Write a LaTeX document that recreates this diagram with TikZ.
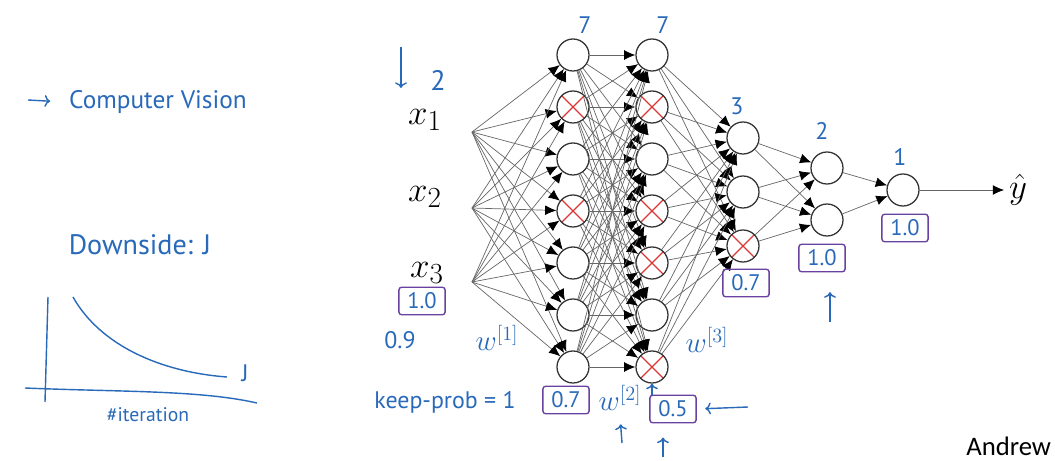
\documentclass[tikz,border=0pt]{standalone}
\usepackage{fontspec}
\newfontfamily\inkfont{PT Sans}
\newfontfamily\slidefont{Carlito}
\usetikzlibrary{arrows.meta,positioning}
\definecolor{inkblue}{RGB}{40,105,185}
\definecolor{inkpurple}{RGB}{105,65,160}
\definecolor{xred}{RGB}{220,55,55}

\begin{document}
\begin{tikzpicture}[x=0.025cm, y=-0.025cm,
  neuron/.style={circle, draw=black!80, line width=0.9pt, fill=white,
    minimum size=0.8cm, inner sep=0pt},
  dropped/.style={neuron, path picture={\draw[xred, line width=0.9pt]
    (path picture bounding box.south west) -- (path picture bounding box.north east)
    (path picture bounding box.north west) -- (path picture bounding box.south east);}},
  link/.style={draw=black!60, line width=0.5pt, -{Latex[length=8pt,width=7pt,black]}},
  inlabel/.style={font=\fontsize{28}{30}\selectfont},
  ink/.style={text=inkblue, font=\inkfont\fontsize{17}{19}\selectfont},
  wlabel/.style={text=inkblue, font=\fontsize{21}{23}\selectfont},
  keepbox/.style={ink, draw=inkpurple, line width=1pt, rounded corners=2pt,
    inner xsep=6pt, inner ysep=4pt, font=\inkfont\fontsize{16}{18}\selectfont},
  inkline/.style={draw=inkblue, line width=1pt},
  inkarrow/.style={inkline, -{To[length=4pt]}},
]
\useasboundingbox (0,0) rectangle (1055,461);

\node[inlabel] (x1) at (425,120) {$x_1$};
\node[inlabel] (x2) at (425,197) {$x_2$};
\node[inlabel] (x3) at (427,273) {$x_3$};
\coordinate (in1) at (472,132);
\coordinate (in2) at (472,208);
\coordinate (in3) at (472,282);

\foreach \i/\s in {1/neuron,2/dropped,3/neuron,4/dropped,5/neuron,6/neuron,7/neuron}
  \node[\s] (a\i) at (573,{3+52*\i}) {};
\foreach \i/\s in {1/neuron,2/dropped,3/neuron,4/dropped,5/dropped,6/neuron,7/dropped}
  \node[\s] (b\i) at (652,{3+52*\i}) {};
\node[neuron]  (c1) at (743,138) {};
\node[neuron]  (c2) at (743,192) {};
\node[dropped] (c3) at (743,246) {};
\node[neuron]  (d1) at (827,168) {};
\node[neuron]  (d2) at (827,220) {};
\node[neuron]  (e1) at (903,190) {};
\node[inlabel] (yhat) at (1018,190) {$\hat{y}$};

\foreach \i in {1,2,3} \foreach \j in {1,...,7} \draw[link] (in\i) -- (a\j);
\foreach \i in {1,...,7} \foreach \j in {1,...,7} \draw[link] (a\i) -- (b\j);
\foreach \i in {1,...,7} \foreach \j in {1,2,3} \draw[link] (b\i) -- (c\j);
\foreach \i in {1,2,3} \foreach \j in {1,2} \draw[link] (c\i) -- (d\j);
\foreach \i in {1,2} \draw[link] (d\i) -- (e1);
\draw[link] (e1) -- (yhat);

\node[ink, font=\inkfont\fontsize{20}{22}\selectfont] (n1) at (438,80) {2};
\draw[inkarrow] (401,47) -- (401,88);
\node[ink] (n2) at (585,25) {7};
\node[ink] (n3) at (663,25) {7};
\node[ink] (n4) at (737,106) {3};
\node[ink] (n5) at (822,131) {2};
\node[ink] (n6) at (900,157) {1};

\node[keepbox] (k1) at (422,301) {1.0};
\node[keepbox] (k2) at (566,400) {0.7};
\node[keepbox] (k3) at (673,409) {0.5};
\node[keepbox] (k4) at (746,283) {0.7};
\node[keepbox] (k5) at (822,258) {1.0};
\node[keepbox] (k6) at (905,228) {1.0};

\node[ink] (p1) at (400,340) {0.9};
\node[wlabel] (w1) at (497,338) {$w^{[1]}$};
\node[wlabel] (w2) at (620,398) {$w^{[2]}$};
\node[wlabel] (w3) at (707,340) {$w^{[3]}$};
\node[ink] (kp) at (445,402) {keep-prob = 1};

\coordinate (u1) at (622,443);
\coordinate (u2) at (663,457);
\coordinate (u3) at (830,322);
\coordinate (l1) at (748,407);
\draw[inkarrow, shorten >=6pt] (u1) -- (w2.south);
\draw[inkarrow, shorten >=10pt] (u2) -- (u2 |- k3.south);
\draw[inkarrow] (k3.north -| b7.south) -- (b7.south);
\draw[inkarrow, shorten >=14pt] (u3) -- (u3 |- k5.south);
\draw[inkarrow, shorten >=6pt] (l1) -- (k3.east);

\node[ink, font=\inkfont\fontsize{18}{20}\selectfont] (cv) at (158,102) {Computer Vision};
\coordinate (cva) at (28,100);
\draw[inkarrow, shorten >=10pt] (cva) -- (cv.west);
\node[ink, font=\inkfont\fontsize{20}{22}\selectfont] (ds) at (140,245) {Downside: J};
\draw[inkline] (48,297) -- (45,402);
\draw[inkline] (25,388) .. controls (120,392) and (200,390) .. (257,403);
\draw[inkline] (73,297) .. controls (100,345) and (160,372) .. (227,377);
\node[ink] (jl) at (245,373) {J};
\node[ink, font=\inkfont\fontsize{14}{16}\selectfont] (it) at (148,415) {\#iteration};

\node[font=\slidefont\fontsize{19}{21}\selectfont, anchor=base west, inner sep=0pt]
  (andrew) at (966,455) {Andrew};
\end{tikzpicture}
\end{document}
